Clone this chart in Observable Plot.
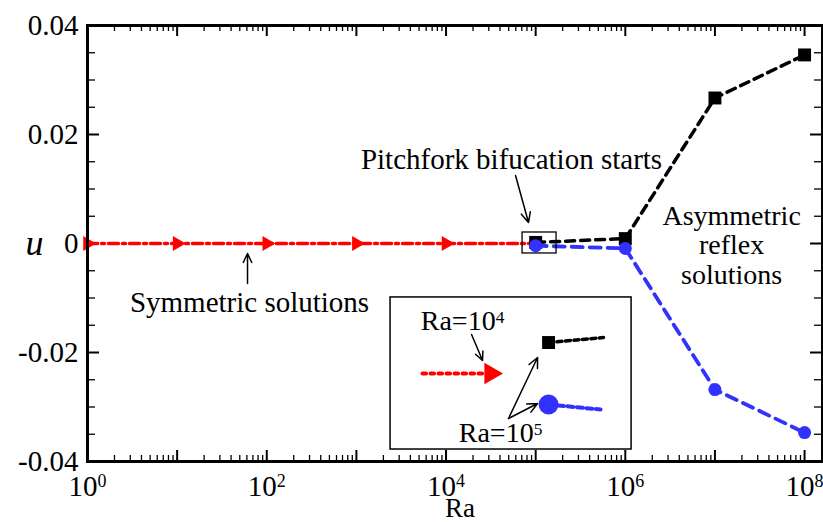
<!DOCTYPE html>
<html>
<head>
<meta charset="utf-8">
<script src="https://cdn.jsdelivr.net/npm/d3@7"></script>
<script src="https://cdn.jsdelivr.net/npm/@observablehq/plot@0.6"></script>
<style>
  html, body { margin: 0; padding: 0; background: #fff; }
  #chart svg { display: block; }
  #chart svg, #chart svg text { font-family: "Liberation Serif", "Times New Roman", serif !important; }
</style>
</head>
<body>
<div id="chart"></div>
<script>
// ---------- data ----------
const symRa = [1, 10, 100, 1e3, 1e4, 1e5];
const symU = [0, 0, 0, 0, 0, 0];
const symMarkerRa = [1, 10, 100, 1e3, 1e4];

const asymRa = [1e5, 1e6, 1e7, 1e8];
const upperU = [0.0002, 0.0009, 0.0267, 0.0346];
const lowerU = [-0.0004, -0.0009, -0.0268, -0.0347];

// axes
const xDomain = [1, 1.585e8];
const yDomain = [-0.04, 0.04];
const xMajorTicks = [1, 1e1, 1e2, 1e3, 1e4, 1e5, 1e6, 1e7, 1e8];
const xLabelTicks = [1, 1e2, 1e4, 1e6, 1e8];
const xLabelTexts = ["10^0", "10^2", "10^4", "10^6", "10^8"];
const yMajorTicks = [-0.04, -0.02, 0, 0.02, 0.04];
const yLabelTexts = ["-0.04", "-0.02", "0", "0.02", "0.04"];
const yMinorStep = 0.005;

// annotations (data coordinates: Ra, u)
const pitchText = ["Pitchfork bifucation starts"];
const pitchPos = [53800, 0.01376];
const pitchArrow = [59600, 0.01248, 83200, 0.00385];
const pitchBox = [71400, 1.71e5, -0.00183, 0.00202];

const symText = ["Symmetric solutions"];
const symPos = [64.2, -0.01248];
const symArrow = [61, -0.00734, 61, -0.00183];

const asymLines = ["Asymmetric", "reflex", "solutions"];
const asymRaPos = 1.535e7;
const asymU = [0.00340, -0.00195, -0.00735];

// inset
const insetBox = [2404, 1.175e6, -0.0378, -0.0099];
const insetRedRa = [5470, 26200];
const insetRedU = [-0.02385, -0.02385];
const insetTriangle = [31400, -0.02385];
const insetBlackRa = [1.393e5, 5.72e5];
const insetBlackU = [-0.01817, -0.01725];
const insetBlueRa = [1.393e5, 5.30e5];
const insetBlueU = [-0.02954, -0.03046];
const insetLabels = ["Ra=10^4", "Ra=10^5"];
const insetLabelRa = [15280, 40550];
const insetLabelU = [-0.01596, -0.03651];
const insetArrows = [
  [19270, -0.0167, 25540, -0.02147],
  [49800, -0.03211, 1.05e5, -0.02092],
  [49800, -0.03211, 1.05e5, -0.02936]
];

// ---------- derived tables ----------
const symRows = symRa.map((r, i) => ({ra: r, u: symU[i]}));
const symMarkers = symRows.filter(d => symMarkerRa.includes(d.ra));
const upperRows = asymRa.map((r, i) => ({ra: r, u: upperU[i]}));
const lowerRows = asymRa.map((r, i) => ({ra: r, u: lowerU[i]}));

const xMinorTicks = [];
for (let e = 0; e < 8; e++) for (let k = 2; k <= 9; k++) xMinorTicks.push(k * Math.pow(10, e));
const yMinorTicks = d3.range(-0.04, 0.0401, yMinorStep).filter(v => !yMajorTicks.some(m => Math.abs(m - v) < 1e-9));

const W = 823, H = 522, mL = 87, mR = 1, mT = 25, mB = 61;
const innerW = W - mL - mR, innerH = H - mT - mB;
const majLen = 11, minLen = 6, yMajLen = 12, yMinLen = 8;

const red = "#ff0000", blue = "#3232ff";
const serif = "Liberation Serif";

const chart = Plot.plot({
  width: W, height: H,
  marginLeft: mL, marginRight: mR, marginTop: mT, marginBottom: mB,
  x: {type: "log", domain: xDomain, axis: null},
  y: {domain: yDomain, axis: null},
  style: {fontFamily: serif, fontSize: "28px", background: "#fff", color: "#000"},
  marks: [
    // ticks (inward, all four sides)
    Plot.tickX(xMajorTicks, {x: d => d, insetTop: innerH - majLen, stroke: "#000", strokeWidth: 2}),
    Plot.tickX(xMinorTicks, {x: d => d, insetTop: innerH - minLen, stroke: "#000", strokeWidth: 1.3}),
    Plot.tickX(xMajorTicks, {x: d => d, insetBottom: innerH - majLen, stroke: "#000", strokeWidth: 2}),
    Plot.tickX(xMinorTicks, {x: d => d, insetBottom: innerH - minLen, stroke: "#000", strokeWidth: 1.3}),
    Plot.tickY(yMajorTicks, {y: d => d, insetRight: innerW - yMajLen, stroke: "#000", strokeWidth: 2}),
    Plot.tickY(yMinorTicks, {y: d => d, insetRight: innerW - yMinLen, stroke: "#000", strokeWidth: 1.3}),
    Plot.tickY(yMajorTicks, {y: d => d, insetLeft: innerW - yMajLen, stroke: "#000", strokeWidth: 2}),
    Plot.tickY(yMinorTicks, {y: d => d, insetLeft: innerW - yMinLen, stroke: "#000", strokeWidth: 1.3}),

    // symmetric branch
    Plot.line(symRows, {x: "ra", y: "u", stroke: red, strokeWidth: 3.5, strokeDasharray: "10,4,3,4"}),
    Plot.dot(symMarkers, {x: "ra", y: "u", symbol: "triangle", rotate: 90, r: 5.5, fill: red, stroke: "none"}),

    // asymmetric branches
    Plot.line(upperRows, {x: "ra", y: "u", stroke: "#000", strokeWidth: 3.5, strokeDasharray: "9,6", strokeLinecap: "round"}),
    Plot.dot(upperRows, {x: "ra", y: "u", symbol: "square", r: 7.3, fill: "#000", stroke: "none"}),
    Plot.line(lowerRows, {x: "ra", y: "u", stroke: blue, strokeWidth: 3.8, strokeDasharray: "11,7", strokeLinecap: "round"}),
    Plot.dot(lowerRows, {x: "ra", y: "u", r: 6.5, fill: blue, stroke: "none"}),

    // small box around the bifurcation point
    Plot.rect([pitchBox], {x1: d => d[0], x2: d => d[1], y1: d => d[2], y2: d => d[3], fill: "none", stroke: "#000", strokeWidth: 1.3}),

    // frame
    Plot.frame({stroke: "#000", strokeWidth: 3}),

    // tick labels
    Plot.text(xLabelTicks, {x: d => d, text: (d, i) => xLabelTexts[i], frameAnchor: "bottom", dy: 34, lineAnchor: "bottom", fontSize: 29, fontFamily: serif}),
    Plot.text(yMajorTicks, {y: d => d, text: (d, i) => yLabelTexts[i], frameAnchor: "left", dx: -9, textAnchor: "end", fontSize: 29, fontFamily: serif}),
    Plot.text(["u"], {text: d => d, frameAnchor: "left", dx: -62, fontStyle: "italic", fontSize: 36, fontFamily: serif}),
    Plot.text(["Ra"], {text: d => d, frameAnchor: "bottom", dx: 5, dy: 55, lineAnchor: "bottom", fontSize: 27, fontFamily: serif}),

    // annotations
    Plot.text(pitchText, {x: () => pitchPos[0], y: () => pitchPos[1], text: d => d, lineAnchor: "bottom", fontSize: 29, fontFamily: serif}),
    Plot.arrow([pitchArrow], {x1: d => d[0], y1: d => d[1], x2: d => d[2], y2: d => d[3], stroke: "#000", strokeWidth: 1.5, headLength: 11, headAngle: 50}),
    Plot.text(symText, {x: () => symPos[0], y: () => symPos[1], text: d => d, lineAnchor: "bottom", fontSize: 29, fontFamily: serif}),
    Plot.arrow([symArrow], {x1: d => d[0], y1: d => d[1], x2: d => d[2], y2: d => d[3], stroke: "#000", strokeWidth: 1.5, headLength: 11, headAngle: 50}),
    Plot.text(asymLines, {x: () => asymRaPos, y: (d, i) => asymU[i], text: d => d, lineAnchor: "bottom", fontSize: 28, fontFamily: serif}),

    // inset
    Plot.rect([insetBox], {x1: d => d[0], x2: d => d[1], y1: d => d[2], y2: d => d[3], fill: "#fff", stroke: "#000", strokeWidth: 1.5}),
    Plot.line(insetRedRa.map((r, i) => ({ra: r, u: insetRedU[i]})), {x: "ra", y: "u", stroke: red, strokeWidth: 4, strokeDasharray: "3.5,4.5"}),
    Plot.dot([insetTriangle], {x: d => d[0], y: d => d[1], symbol: "triangle", rotate: 90, r: 8, fill: red, stroke: "none"}),
    Plot.line(insetBlackRa.map((r, i) => ({ra: r, u: insetBlackU[i]})), {x: "ra", y: "u", stroke: "#000", strokeWidth: 3.5, strokeDasharray: "5,3.5"}),
    Plot.dot([[insetBlackRa[0], insetBlackU[0]]], {x: d => d[0], y: d => d[1], symbol: "square", r: 7.3, fill: "#000", stroke: "none"}),
    Plot.line(insetBlueRa.map((r, i) => ({ra: r, u: insetBlueU[i]})), {x: "ra", y: "u", stroke: blue, strokeWidth: 4, strokeDasharray: "6,3.5"}),
    Plot.dot([[insetBlueRa[0], insetBlueU[0]]], {x: d => d[0], y: d => d[1], r: 10, fill: blue, stroke: "none"}),
    Plot.text(insetLabels, {x: (d, i) => insetLabelRa[i], y: (d, i) => insetLabelU[i], text: d => d, lineAnchor: "bottom", fontSize: 28, fontFamily: serif}),
    Plot.arrow(insetArrows, {x1: d => d[0], y1: d => d[1], x2: d => d[2], y2: d => d[3], stroke: "#000", strokeWidth: 1.5, headLength: 11, headAngle: 50})
  ]
});

// superscripts: "10^4" -> 10 with raised 4
d3.select(chart).selectAll("text").each(function () {
  const t = this.textContent;
  if (!t.includes("^")) return;
  const [base, exp] = t.split("^");
  const sel = d3.select(this);
  sel.text(null);
  sel.append("tspan").text(base);
  sel.append("tspan").attr("dy", "-0.45em").attr("font-size", "0.62em").text(exp);
});

document.getElementById("chart").appendChild(chart);
</script>
</body>
</html>
